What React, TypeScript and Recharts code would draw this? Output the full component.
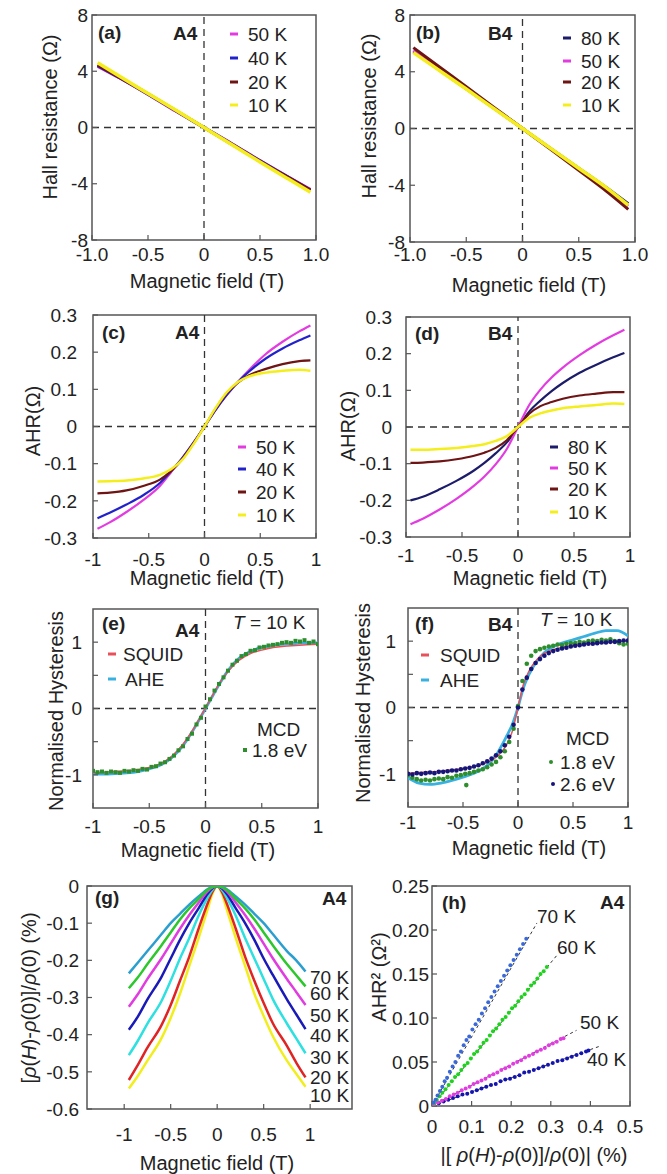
import React from 'react';
import { ComposedChart, Line, Scatter, XAxis, YAxis, ReferenceLine } from 'recharts';

const PAGE_W = 667;
const PAGE_H = 1174;
const FONT = "'Liberation Sans', Arial, Helvetica, sans-serif";
const INK = '#222';
const FRAME = '#555';

// (a) Hall resistance, A4
const aField = [-0.95, -0.75, -0.5, -0.25, 0, 0.25, 0.5, 0.75, 0.95];
const a50K = [4.35, 3.5, 2.35, 1.15, 0, -1.15, -2.35, -3.5, -4.4];
const a40K = [4.4, 3.52, 2.37, 1.17, 0, -1.17, -2.37, -3.52, -4.45];
const a20K = [4.45, 3.55, 2.4, 1.2, 0, -1.2, -2.4, -3.55, -4.45];
const a10K = [4.6, 3.62, 2.42, 1.22, 0, -1.22, -2.45, -3.65, -4.6];

// (b) Hall resistance, B4
const bField = [-0.97, -0.75, -0.5, -0.25, 0, 0.25, 0.5, 0.75, 0.94];
const b80K = [5.4, 4.2, 2.8, 1.4, 0, -1.4, -2.8, -4.2, -5.3];
const b50K = [5.5, 4.25, 2.85, 1.42, 0, -1.42, -2.85, -4.3, -5.45];
const b20K = [5.7, 4.4, 2.95, 1.47, 0, -1.47, -2.95, -4.45, -5.7];
const b10K = [5.35, 4.15, 2.78, 1.38, 0, -1.4, -2.8, -4.2, -5.4];

// (c) AHR, A4
const cField = [-0.96, -0.85, -0.7, -0.55, -0.4, -0.3, -0.2, -0.1, 0, 0.1, 0.2, 0.3, 0.4, 0.55, 0.7, 0.85, 0.95];
const c50K = [-0.275, -0.258, -0.23, -0.198, -0.16, -0.123, -0.085, -0.044, 0, 0.045, 0.085, 0.12, 0.152, 0.195, 0.228, 0.256, 0.272];
const c40K = [-0.247, -0.232, -0.21, -0.185, -0.152, -0.12, -0.085, -0.044, 0, 0.045, 0.085, 0.12, 0.148, 0.183, 0.21, 0.232, 0.245];
const c20K = [-0.18, -0.178, -0.172, -0.16, -0.143, -0.12, -0.088, -0.046, 0, 0.048, 0.09, 0.118, 0.138, 0.155, 0.168, 0.176, 0.178];
const c10K = [-0.148, -0.147, -0.145, -0.14, -0.13, -0.115, -0.09, -0.048, 0, 0.05, 0.092, 0.12, 0.135, 0.145, 0.15, 0.153, 0.15];

// (d) AHR, B4
const dField = [-0.96, -0.85, -0.7, -0.55, -0.4, -0.3, -0.2, -0.1, 0, 0.1, 0.2, 0.3, 0.4, 0.55, 0.7, 0.85, 0.95];
const d80K = [-0.2, -0.19, -0.17, -0.147, -0.12, -0.098, -0.072, -0.042, 0, 0.042, 0.072, 0.098, 0.12, 0.148, 0.17, 0.19, 0.202];
const d50K = [-0.265, -0.25, -0.225, -0.196, -0.162, -0.135, -0.102, -0.06, 0, 0.06, 0.102, 0.135, 0.162, 0.196, 0.225, 0.25, 0.265];
const d20K = [-0.098, -0.097, -0.094, -0.088, -0.079, -0.07, -0.057, -0.036, 0, 0.036, 0.057, 0.068, 0.077, 0.086, 0.091, 0.095, 0.095];
const d10K = [-0.062, -0.062, -0.06, -0.057, -0.052, -0.047, -0.038, -0.025, 0, 0.025, 0.037, 0.045, 0.051, 0.056, 0.06, 0.064, 0.063];

// (e) normalised hysteresis, A4
const eField = [-1, -0.9, -0.8, -0.7, -0.6, -0.5, -0.4, -0.3, -0.2, -0.1, -0.05, 0, 0.05, 0.1, 0.2, 0.3, 0.4, 0.5, 0.6, 0.7, 0.8, 0.9, 1];
const eSquid = [-0.97, -0.96, -0.95, -0.94, -0.92, -0.89, -0.83, -0.72, -0.54, -0.29, -0.14, 0.01, 0.16, 0.31, 0.56, 0.73, 0.83, 0.88, 0.92, 0.94, 0.95, 0.96, 0.97];
const eAhe = [-0.99, -0.99, -0.98, -0.97, -0.95, -0.91, -0.85, -0.74, -0.56, -0.3, -0.15, 0, 0.15, 0.3, 0.57, 0.76, 0.86, 0.92, 0.95, 0.97, 0.98, 0.99, 0.99];
const eMcdField = [-1, -0.96, -0.92, -0.88, -0.84, -0.8, -0.76, -0.72, -0.68, -0.64, -0.6, -0.56, -0.52, -0.48, -0.44, -0.4, -0.36, -0.32, -0.28, -0.24, -0.2, -0.16, -0.12, -0.08, -0.04, 0, 0.04, 0.08, 0.12, 0.16, 0.2, 0.24, 0.28, 0.32, 0.36, 0.4, 0.44, 0.48, 0.52, 0.56, 0.6, 0.64, 0.68, 0.72, 0.76, 0.8, 0.84, 0.88, 0.92, 0.96, 1];
const eMcd18 = [-0.94, -0.96, -0.95, -0.97, -0.95, -0.96, -0.97, -0.94, -0.95, -0.93, -0.94, -0.91, -0.92, -0.88, -0.87, -0.83, -0.81, -0.76, -0.71, -0.63, -0.57, -0.46, -0.38, -0.24, -0.14, 0.03, 0.14, 0.27, 0.37, 0.47, 0.57, 0.66, 0.72, 0.79, 0.82, 0.87, 0.88, 0.92, 0.93, 0.95, 0.96, 0.97, 0.99, 1.0, 0.99, 1.02, 1.01, 1.03, 0.99, 1.01, 0.97];

// (f) normalised hysteresis, B4
const fField = [-1, -0.9, -0.8, -0.7, -0.6, -0.5, -0.4, -0.3, -0.2, -0.1, -0.05, 0, 0.05, 0.1, 0.2, 0.3, 0.4, 0.5, 0.6, 0.7, 0.8, 0.9, 1];
const fSquid = [-0.99, -0.98, -0.97, -0.96, -0.94, -0.92, -0.89, -0.84, -0.75, -0.55, -0.35, 0, 0.35, 0.55, 0.77, 0.86, 0.91, 0.94, 0.96, 0.97, 0.98, 0.99, 1.0];
const fAhe = [-1.06, -1.14, -1.16, -1.14, -1.1, -1.05, -0.99, -0.9, -0.72, -0.42, -0.25, 0, 0.3, 0.5, 0.76, 0.9, 0.97, 1.02, 1.07, 1.12, 1.16, 1.16, 1.08];
const fMcdField = [-1, -0.96, -0.92, -0.88, -0.84, -0.8, -0.76, -0.72, -0.68, -0.64, -0.6, -0.56, -0.52, -0.48, -0.47, -0.44, -0.4, -0.36, -0.32, -0.28, -0.24, -0.2, -0.16, -0.12, -0.08, -0.04, 0, 0.04, 0.08, 0.12, 0.16, 0.2, 0.24, 0.28, 0.32, 0.36, 0.4, 0.44, 0.48, 0.52, 0.56, 0.6, 0.64, 0.68, 0.72, 0.76, 0.8, 0.84, 0.88, 0.92, 0.96, 1];
const fMcd18 = [-1.02, -1.06, -1.08, -1.1, -1.09, -1.1, -1.08, -1.07, -1.08, -1.05, -1.06, -1.03, -1.02, -1.0, -1.17, -0.99, -0.97, -0.95, -0.93, -0.9, -0.86, -0.82, -0.75, -0.66, -0.52, -0.32, 0.02, 0.4, 0.66, 0.78, 0.85, 0.88, 0.9, 0.92, 0.93, 0.95, 0.94, 0.96, 0.97, 0.97, 0.99, 0.98, 1.0, 1.01, 1.0, 1.02, 1.01, 1.03, 1.0, 0.97, 0.95, 0.96];
const fNavyField = [-1, -0.96, -0.92, -0.88, -0.84, -0.8, -0.76, -0.72, -0.68, -0.64, -0.6, -0.56, -0.52, -0.48, -0.44, -0.4, -0.36, -0.32, -0.28, -0.24, -0.2, -0.16, -0.12, -0.08, -0.04, 0, 0.04, 0.08, 0.12, 0.16, 0.2, 0.24, 0.28, 0.32, 0.36, 0.4, 0.44, 0.48, 0.52, 0.56, 0.6, 0.64, 0.68, 0.72, 0.76, 0.8, 0.84, 0.88, 0.92, 0.96, 1];
const fMcd26 = [-1.0, -1.01, -0.99, -1.0, -0.99, -0.98, -0.99, -0.97, -0.97, -0.96, -0.95, -0.95, -0.93, -0.92, -0.91, -0.89, -0.87, -0.84, -0.81, -0.77, -0.72, -0.66, -0.57, -0.44, -0.26, 0, 0.27, 0.45, 0.58, 0.67, 0.73, 0.78, 0.82, 0.85, 0.87, 0.89, 0.9, 0.92, 0.93, 0.94, 0.95, 0.96, 0.96, 0.97, 0.98, 0.98, 0.99, 0.99, 1.0, 1.01, 1.01];

// (g) magnetoresistance, A4
const gField = [-0.95, -0.85, -0.75, -0.6, -0.5, -0.4, -0.3, -0.2, -0.1, -0.05, 0, 0.05, 0.1, 0.2, 0.3, 0.4, 0.5, 0.6, 0.75, 0.85, 0.95];
const g10K = [-0.545, -0.51, -0.47, -0.41, -0.355, -0.29, -0.215, -0.14, -0.06, -0.02, 0, -0.02, -0.06, -0.14, -0.215, -0.29, -0.35, -0.405, -0.47, -0.505, -0.54];
const g20K = [-0.522, -0.48, -0.435, -0.375, -0.32, -0.255, -0.19, -0.115, -0.045, -0.015, 0, -0.015, -0.045, -0.115, -0.19, -0.255, -0.315, -0.37, -0.43, -0.475, -0.515];
const g30K = [-0.455, -0.415, -0.37, -0.31, -0.255, -0.195, -0.14, -0.08, -0.03, -0.01, 0, -0.01, -0.03, -0.08, -0.14, -0.195, -0.25, -0.305, -0.37, -0.41, -0.45];
const g40K = [-0.387, -0.35, -0.305, -0.245, -0.195, -0.145, -0.1, -0.06, -0.02, -0.006, 0, -0.006, -0.02, -0.06, -0.1, -0.145, -0.195, -0.24, -0.305, -0.345, -0.385];
const g50K = [-0.325, -0.29, -0.25, -0.195, -0.155, -0.115, -0.078, -0.045, -0.014, -0.004, 0, -0.004, -0.014, -0.045, -0.078, -0.115, -0.155, -0.195, -0.25, -0.285, -0.32];
const g60K = [-0.275, -0.245, -0.21, -0.16, -0.125, -0.09, -0.06, -0.035, -0.01, -0.003, 0, -0.003, -0.01, -0.035, -0.06, -0.09, -0.125, -0.16, -0.21, -0.24, -0.27];
const g70K = [-0.235, -0.205, -0.175, -0.13, -0.1, -0.075, -0.05, -0.028, -0.008, -0.002, 0, -0.002, -0.008, -0.028, -0.05, -0.075, -0.1, -0.13, -0.175, -0.2, -0.23];
const gTemps = ['70 K', '60 K', '50 K', '40 K', '30 K', '20 K', '10 K'];

// (h) AHR^2 against |MR|, A4
const h70X = [0.004, 0.009, 0.014, 0.02, 0.026, 0.032, 0.038, 0.045, 0.052, 0.059, 0.066, 0.073, 0.08, 0.087, 0.094, 0.102, 0.11, 0.118, 0.126, 0.134, 0.142, 0.15, 0.158, 0.166, 0.174, 0.182, 0.19, 0.198, 0.206, 0.214, 0.222, 0.23, 0.238];
const h70Y = [0.004, 0.007, 0.012, 0.017, 0.022, 0.028, 0.032, 0.039, 0.045, 0.05, 0.057, 0.062, 0.069, 0.075, 0.079, 0.087, 0.093, 0.098, 0.105, 0.111, 0.118, 0.124, 0.13, 0.136, 0.142, 0.148, 0.154, 0.16, 0.166, 0.172, 0.178, 0.184, 0.19];
const h60X = [0.005, 0.012, 0.019, 0.026, 0.034, 0.042, 0.05, 0.058, 0.066, 0.074, 0.082, 0.09, 0.098, 0.106, 0.114, 0.122, 0.13, 0.138, 0.146, 0.154, 0.162, 0.17, 0.178, 0.186, 0.194, 0.202, 0.21, 0.218, 0.226, 0.234, 0.242, 0.25, 0.258, 0.266, 0.274, 0.282, 0.29];
const h60Y = [0.003, 0.007, 0.011, 0.015, 0.019, 0.024, 0.028, 0.033, 0.036, 0.041, 0.046, 0.049, 0.054, 0.059, 0.062, 0.067, 0.072, 0.075, 0.08, 0.085, 0.088, 0.093, 0.098, 0.101, 0.106, 0.111, 0.114, 0.119, 0.124, 0.127, 0.132, 0.137, 0.14, 0.145, 0.15, 0.153, 0.158];
const h50X = [0.005, 0.015, 0.025, 0.035, 0.045, 0.055, 0.065, 0.075, 0.085, 0.095, 0.105, 0.115, 0.125, 0.135, 0.145, 0.155, 0.165, 0.175, 0.185, 0.195, 0.205, 0.215, 0.225, 0.235, 0.245, 0.255, 0.265, 0.275, 0.285, 0.295, 0.305, 0.315, 0.325, 0.332];
const h50Y = [0.001, 0.004, 0.006, 0.008, 0.011, 0.013, 0.015, 0.018, 0.02, 0.022, 0.025, 0.027, 0.029, 0.031, 0.034, 0.036, 0.038, 0.041, 0.043, 0.045, 0.048, 0.05, 0.052, 0.055, 0.057, 0.059, 0.062, 0.064, 0.066, 0.069, 0.071, 0.073, 0.076, 0.077];
const h40X = [0.005, 0.017, 0.029, 0.041, 0.053, 0.065, 0.077, 0.089, 0.101, 0.113, 0.125, 0.137, 0.149, 0.161, 0.173, 0.185, 0.197, 0.209, 0.221, 0.233, 0.245, 0.257, 0.269, 0.281, 0.293, 0.305, 0.317, 0.329, 0.341, 0.353, 0.365, 0.377, 0.389, 0.395];
const h40Y = [0.001, 0.003, 0.005, 0.007, 0.009, 0.011, 0.013, 0.014, 0.016, 0.018, 0.02, 0.022, 0.024, 0.025, 0.028, 0.03, 0.031, 0.033, 0.035, 0.038, 0.039, 0.041, 0.043, 0.045, 0.047, 0.049, 0.051, 0.052, 0.054, 0.056, 0.058, 0.06, 0.062, 0.063];
const hFitX70 = [0, 0.265];
const hFitY70 = [0, 0.208];
const hFitX60 = [0, 0.315];
const hFitY60 = [0, 0.171];
const hFitX50 = [0, 0.365];
const hFitY50 = [0, 0.086];
const hFitX40 = [0, 0.424];
const hFitY40 = [0, 0.068];

const fieldTicks = [-1, -0.5, 0, 0.5, 1];

type Pt = { x: number; y: number };
const pts = (xs: number[], ys: number[]): Pt[] => xs.map((x, i) => ({ x, y: ys[i] }));

type Box = { l: number; t: number; r: number; b: number };

interface PanelProps {
  box: Box;
  xDomain: [number, number];
  yDomain: [number, number];
  xTicks: number[];
  yTicks: number[];
  xFmt?: (v: number) => string;
  yFmt?: (v: number) => string;
  xDrop: number;
  yGap: number;
  zeroLines?: boolean;
  children?: React.ReactNode;
}

function Panel({ box, xDomain, yDomain, xTicks, yTicks, xFmt, yFmt, xDrop, yGap, zeroLines, children }: PanelProps) {
  const axisH = 40;
  const axisW = 50;
  return (
    <div style={{ position: 'absolute', left: 0, top: 0 }}>
      <ComposedChart
        width={PAGE_W}
        height={PAGE_H}
        margin={{ top: box.t, right: PAGE_W - box.r, bottom: PAGE_H - box.b - axisH, left: box.l - axisW }}
      >
        <XAxis
          type="number"
          dataKey="x"
          domain={xDomain}
          allowDataOverflow
          ticks={xTicks}
          interval={0}
          tickFormatter={xFmt}
          height={axisH}
          axisLine={false}
          tickSize={-5}
          tickMargin={xDrop - 7 + 5}
          tickLine={{ stroke: FRAME, strokeWidth: 1.2 }}
          tick={{ fill: INK, fontSize: 19 }}
        />
        <YAxis
          type="number"
          dataKey="y"
          domain={yDomain}
          allowDataOverflow
          ticks={yTicks}
          interval={0}
          tickFormatter={yFmt}
          width={axisW}
          axisLine={false}
          tickSize={-5}
          tickMargin={yGap + 5}
          tickLine={{ stroke: FRAME, strokeWidth: 1.2 }}
          tick={{ fill: INK, fontSize: 19 }}
        />
        {zeroLines && <ReferenceLine x={0} stroke="#333" strokeWidth={1.3} strokeDasharray="7 5" />}
        {zeroLines && <ReferenceLine y={0} stroke="#333" strokeWidth={1.3} strokeDasharray="7 5" />}
        {children}
        <rect x={box.l} y={box.t} width={box.r - box.l} height={box.b - box.t} fill="none" stroke={FRAME} strokeWidth={1.5} />
      </ComposedChart>
    </div>
  );
}

const Txt = ({ x, y, children, bold, anchor = 'start', size = 19 }: any) => (
  <text x={x} y={y} fontSize={size} fontWeight={bold ? 700 : 400} fill={INK} textAnchor={anchor}>
    {children}
  </text>
);

const VTitle = ({ x, y, children }: any) => (
  <text transform={`translate(${x},${y}) rotate(-90)`} textAnchor="middle" fontSize={20} fill={INK}>
    {children}
  </text>
);

const Dash = ({ x, y, color }: any) => <line x1={x} x2={x + 8} y1={y} y2={y} stroke={color} strokeWidth={3} />;

const Legend4 = ({ x, rows, items }: any) => (
  <g>
    {items.map((it: any, i: number) => (
      <g key={it.name}>
        <Dash x={x} y={rows[i]} color={it.color} />
        <Txt x={x + 18} y={rows[i] + 7}>{it.name}</Txt>
      </g>
    ))}
  </g>
);

const square = (size: number, color: string) => (p: any) =>
  <rect x={p.cx - size / 2} y={p.cy - size / 2} width={size} height={size} fill={color} />;
const dot = (r: number, color: string) => (p: any) => <circle cx={p.cx} cy={p.cy} r={r} fill={color} />;

const C = {
  magenta: '#e23ce0',
  blue: '#2222cc',
  darkRed: '#6e1414',
  yellow: '#f4ee1c',
  navy: '#1c1c6a',
  squid: '#e8505a',
  ahe: '#38b0e0',
  green: '#2e8e2e',
  navyDot: '#15157a',
  g70: '#2a9fcf',
  g60: '#2cc72c',
  g50: '#e03ce0',
  g40: '#1a1ab8',
  g30: '#2ee0e0',
  g20: '#e02424',
  g10: '#f2ee1e',
  h70: '#3a68d8',
  h60: '#1ed21e',
  h50: '#e03ce0',
  h40: '#1414b0',
};

const fmtOneDec = (v: number) => (v === 0 ? '0' : v.toFixed(1));
const fmtPlain = (v: number) => String(v);
const fmtHyst = (v: number) => (Math.abs(v) === 0.5 ? '' : String(v));
const fmtTwoDec = (v: number) => (v === 0 ? '0' : v.toFixed(2));

const curve = (data: Pt[], color: string, width: number, key: string) => (
  <Line key={key} data={data} dataKey="y" type="monotone" stroke={color} strokeWidth={width} dot={false} isAnimationActive={false} />
);

export default function App() {
  return (
    <div style={{ position: 'absolute', left: 0, top: 0, width: PAGE_W, height: PAGE_H, background: '#fff', fontFamily: FONT }}>
      {/* (a) */}
      <Panel box={{ l: 92, t: 15, r: 316, b: 240 }} xDomain={[-1, 1]} yDomain={[-8, 8]} xTicks={fieldTicks}
        yTicks={[-8, -4, 0, 4, 8]} xFmt={fmtOneDec} yFmt={fmtPlain} xDrop={15} yGap={4} zeroLines>
        {curve(pts(aField, a50K), C.magenta, 3, 'a50')}
        {curve(pts(aField, a40K), C.blue, 3, 'a40')}
        {curve(pts(aField, a20K), C.darkRed, 3, 'a20')}
        {curve(pts(aField, a10K), C.yellow, 3.5, 'a10')}
        <Txt x={98} y={39} bold>(a)</Txt>
        <Txt x={173} y={40} bold>A4</Txt>
        <Legend4 x={230} rows={[34, 58, 82, 105]} items={[
          { name: '50 K', color: C.magenta }, { name: '40 K', color: C.blue },
          { name: '20 K', color: C.darkRed }, { name: '10 K', color: C.yellow }]} />
        <Txt x={207} y={288} anchor="middle" size={20}>Magnetic field (T)</Txt>
        <VTitle x={57} y={117}>Hall resistance (Ω)</VTitle>
      </Panel>

      {/* (b) */}
      <Panel box={{ l: 410, t: 15, r: 635, b: 242 }} xDomain={[-1, 1]} yDomain={[-8, 8]} xTicks={fieldTicks}
        yTicks={[-8, -4, 0, 4, 8]} xFmt={fmtOneDec} yFmt={fmtPlain} xDrop={13} yGap={5} zeroLines>
        {curve(pts(bField, b80K), C.navy, 3, 'b80')}
        {curve(pts(bField, b50K), C.magenta, 3, 'b50')}
        {curve(pts(bField, b20K), C.darkRed, 3, 'b20')}
        {curve(pts(bField, b10K), C.yellow, 3.5, 'b10')}
        <Txt x={416} y={39} bold>(b)</Txt>
        <Txt x={488} y={40} bold>B4</Txt>
        <Legend4 x={563} rows={[38, 61, 82, 105]} items={[
          { name: '80 K', color: C.navy }, { name: '50 K', color: C.magenta },
          { name: '20 K', color: C.darkRed }, { name: '10 K', color: C.yellow }]} />
        <Txt x={529} y={292} anchor="middle" size={20}>Magnetic field (T)</Txt>
        <VTitle x={376} y={116}>Hall resistance (Ω)</VTitle>
      </Panel>

      {/* (c) */}
      <Panel box={{ l: 93, t: 315, r: 316, b: 538 }} xDomain={[-1, 1]} yDomain={[-0.3, 0.3]} xTicks={fieldTicks}
        yTicks={[-0.3, -0.2, -0.1, 0, 0.1, 0.2, 0.3]} xFmt={fmtPlain} yFmt={fmtOneDec} xDrop={22} yGap={16} zeroLines>
        {curve(pts(cField, c50K), C.magenta, 2.2, 'c50')}
        {curve(pts(cField, c40K), C.blue, 2.2, 'c40')}
        {curve(pts(cField, c20K), C.darkRed, 2.2, 'c20')}
        {curve(pts(cField, c10K), C.yellow, 2.5, 'c10')}
        <Txt x={102} y={339} bold>(c)</Txt>
        <Txt x={175} y={339} bold>A4</Txt>
        <Legend4 x={238} rows={[447, 469, 492, 515]} items={[
          { name: '50 K', color: C.magenta }, { name: '40 K', color: C.blue },
          { name: '20 K', color: C.darkRed }, { name: '10 K', color: C.yellow }]} />
        <Txt x={207} y={585} anchor="middle" size={20}>Magnetic field (T)</Txt>
        <VTitle x={40} y={421}>AHR(Ω)</VTitle>
      </Panel>

      {/* (d) */}
      <Panel box={{ l: 406, t: 317, r: 630, b: 537 }} xDomain={[-1, 1]} yDomain={[-0.3, 0.3]} xTicks={fieldTicks}
        yTicks={[-0.3, -0.2, -0.1, 0, 0.1, 0.2, 0.3]} xFmt={fmtPlain} yFmt={fmtOneDec} xDrop={19} yGap={14} zeroLines>
        {curve(pts(dField, d80K), C.navy, 2.2, 'd80')}
        {curve(pts(dField, d50K), C.magenta, 2.2, 'd50')}
        {curve(pts(dField, d20K), C.darkRed, 2.2, 'd20')}
        {curve(pts(dField, d10K), C.yellow, 2.5, 'd10')}
        <Txt x={415} y={340} bold>(d)</Txt>
        <Txt x={488} y={340} bold>B4</Txt>
        <Legend4 x={550} rows={[447, 468, 489, 512]} items={[
          { name: '80 K', color: C.navy }, { name: '50 K', color: C.magenta },
          { name: '20 K', color: C.darkRed }, { name: '10 K', color: C.yellow }]} />
        <Txt x={530} y={585} anchor="middle" size={20}>Magnetic field (T)</Txt>
        <VTitle x={355} y={426}>AHR(Ω)</VTitle>
      </Panel>

      {/* (e) */}
      <Panel box={{ l: 93, t: 609, r: 318, b: 808 }} xDomain={[-1, 1]} yDomain={[-1.5, 1.5]} xTicks={fieldTicks}
        yTicks={[-1, -0.5, 0, 0.5, 1]} xFmt={fmtPlain} yFmt={fmtHyst} xDrop={19} yGap={11} zeroLines>
        {curve(pts(eField, eAhe), C.ahe, 2.8, 'eAhe')}
        {curve(pts(eField, eSquid), C.squid, 1.5, 'eSquid')}
        <Scatter data={pts(eMcdField, eMcd18)} dataKey="y" shape={square(4, C.green)} isAnimationActive={false} />
        <Txt x={102} y={630} bold>(e)</Txt>
        <Txt x={175} y={637} bold>A4</Txt>
        <text x={233} y={629} fontSize={19} fill={INK}>
          <tspan fontStyle="italic">T</tspan> = 10 K
        </text>
        <Dash x={108} y={654} color={C.squid} />
        <Txt x={123} y={661}>SQUID</Txt>
        <Dash x={108} y={679} color={C.ahe} />
        <Txt x={125} y={686}>AHE</Txt>
        <Txt x={257} y={736}>MCD</Txt>
        <rect x={243} y={748} width={4} height={4} fill={C.green} />
        <Txt x={252} y={757}>1.8 eV</Txt>
        <Txt x={198} y={857} anchor="middle" size={20}>Magnetic field (T)</Txt>
        <VTitle x={63} y={711}>Normalised Hysteresis</VTitle>
      </Panel>

      {/* (f) */}
      <Panel box={{ l: 408, t: 608, r: 628, b: 807 }} xDomain={[-1, 1]} yDomain={[-1.5, 1.5]} xTicks={fieldTicks}
        yTicks={[-1, -0.5, 0, 0.5, 1]} xFmt={fmtPlain} yFmt={fmtHyst} xDrop={16} yGap={12} zeroLines>
        {curve(pts(fField, fAhe), C.ahe, 2.8, 'fAhe')}
        <Scatter data={pts(fMcdField, fMcd18)} dataKey="y" shape={dot(2.3, C.green)} isAnimationActive={false} />
        <Scatter data={pts(fNavyField, fMcd26)} dataKey="y" shape={dot(2.3, C.navyDot)} isAnimationActive={false} />
        {curve(pts(fField, fSquid), C.squid, 1.5, 'fSquid')}
        <Txt x={415} y={630} bold>(f)</Txt>
        <Txt x={488} y={631} bold>B4</Txt>
        <text x={540} y={626} fontSize={19} fill={INK}>
          <tspan fontStyle="italic">T</tspan> = 10 K
        </text>
        <Dash x={421} y={655} color={C.squid} />
        <Txt x={440} y={662}>SQUID</Txt>
        <Dash x={421} y={680} color={C.ahe} />
        <Txt x={440} y={687}>AHE</Txt>
        <Txt x={566} y={745}>MCD</Txt>
        <circle cx={551} cy={762} r={2} fill={C.green} />
        <Txt x={560} y={769}>1.8 eV</Txt>
        <circle cx={553} cy={784} r={2} fill={C.navyDot} />
        <Txt x={560} y={791}>2.6 eV</Txt>
        <Txt x={529} y={855} anchor="middle" size={20}>Magnetic field (T)</Txt>
        <VTitle x={370} y={703}>Normalised Hysteresis</VTitle>
      </Panel>

      {/* (g) */}
      <Panel box={{ l: 87, t: 886, r: 352, b: 1109 }} xDomain={[-1.4, 1.45]} yDomain={[-0.6, 0]} xTicks={fieldTicks}
        yTicks={[-0.6, -0.5, -0.4, -0.3, -0.2, -0.1, 0]} xFmt={fmtPlain} yFmt={fmtPlain} xDrop={26} yGap={8}>
        {curve(pts(gField, g10K), C.g10, 2.5, 'g10')}
        {curve(pts(gField, g20K), C.g20, 2.5, 'g20')}
        {curve(pts(gField, g30K), C.g30, 2.5, 'g30')}
        {curve(pts(gField, g40K), C.g40, 2.5, 'g40')}
        {curve(pts(gField, g50K), C.g50, 2.5, 'g50')}
        {curve(pts(gField, g70K), C.g70, 2.5, 'g70')}
        {curve(pts(gField, g60K), C.g60, 2.5, 'g60')}
        {gTemps.map((t, i) => (
          <Txt key={t} x={310} y={[984, 1000, 1022, 1042, 1064, 1084, 1102][i]}>{t}</Txt>
        ))}
        <Txt x={95} y={904} bold>(g)</Txt>
        <Txt x={322} y={905} bold>A4</Txt>
        <Txt x={217} y={1170} anchor="middle" size={20}>Magnetic field (T)</Txt>
        <VTitle x={36} y={998}>
          [<tspan fontStyle="italic">ρ</tspan>(<tspan fontStyle="italic">H</tspan>)-<tspan fontStyle="italic">ρ</tspan>(0)]/<tspan fontStyle="italic">ρ</tspan>(0) (%)
        </VTitle>
      </Panel>

      {/* (h) */}
      <Panel box={{ l: 432, t: 886, r: 630, b: 1106 }} xDomain={[0, 0.5]} yDomain={[0, 0.25]}
        xTicks={[0, 0.1, 0.2, 0.3, 0.4, 0.5]} yTicks={[0, 0.05, 0.1, 0.15, 0.2, 0.25]} xFmt={fmtPlain} yFmt={fmtTwoDec}
        xDrop={21} yGap={3}>
        <Line data={pts(hFitX70, hFitY70)} dataKey="y" type="linear" stroke="#333" strokeWidth={1} strokeDasharray="3 3" dot={false} isAnimationActive={false} />
        <Line data={pts(hFitX60, hFitY60)} dataKey="y" type="linear" stroke="#333" strokeWidth={1} strokeDasharray="3 3" dot={false} isAnimationActive={false} />
        <Line data={pts(hFitX50, hFitY50)} dataKey="y" type="linear" stroke="#333" strokeWidth={1} strokeDasharray="3 3" dot={false} isAnimationActive={false} />
        <Line data={pts(hFitX40, hFitY40)} dataKey="y" type="linear" stroke="#333" strokeWidth={1} strokeDasharray="3 3" dot={false} isAnimationActive={false} />
        <Scatter data={pts(h40X, h40Y)} dataKey="y" shape={dot(2, C.h40)} isAnimationActive={false} />
        <Scatter data={pts(h50X, h50Y)} dataKey="y" shape={dot(2, C.h50)} isAnimationActive={false} />
        <Scatter data={pts(h60X, h60Y)} dataKey="y" shape={dot(2, C.h60)} isAnimationActive={false} />
        <Scatter data={pts(h70X, h70Y)} dataKey="y" shape={dot(2, C.h70)} isAnimationActive={false} />
        <Txt x={442} y={909} bold>(h)</Txt>
        <Txt x={600} y={909} bold>A4</Txt>
        <Txt x={537} y={923}>70 K</Txt>
        <Txt x={557} y={954}>60 K</Txt>
        <Txt x={580} y={1029}>50 K</Txt>
        <Txt x={587} y={1066}>40 K</Txt>
        <text x={534} y={1162} textAnchor="middle" fontSize={20} fill={INK}>
          |[ <tspan fontStyle="italic">ρ</tspan>(<tspan fontStyle="italic">H</tspan>)-<tspan fontStyle="italic">ρ</tspan>(0)]/<tspan fontStyle="italic">ρ</tspan>(0)| (%)
        </text>
        <VTitle x={386} y={977}>AHR² (Ω²)</VTitle>
      </Panel>
    </div>
  );
}
